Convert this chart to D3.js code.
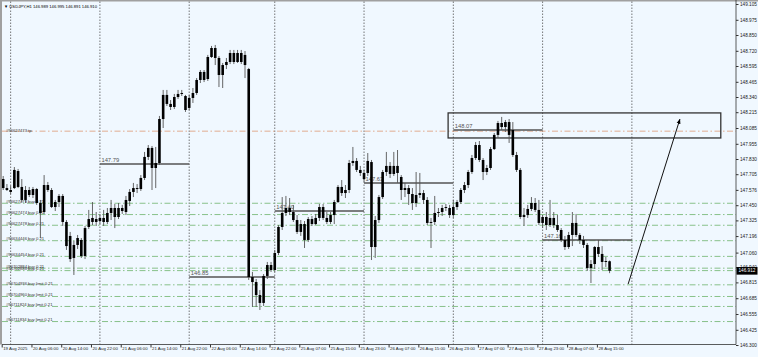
<!DOCTYPE html>
<html><head><meta charset="utf-8">
<script src="https://cdn.jsdelivr.net/npm/d3@7"></script>
<style>html,body{margin:0;padding:0;background:#F0F8FF;}svg{display:block;}</style>
</head><body><svg id="c" width="758" height="357"></svg>
<script>
const symbol = "USDJPY,H1";
const opens = [
147.665,147.591,147.575,147.591,147.731,147.600,147.493,147.575,147.534,147.583,
147.468,147.394,147.616,147.575,147.435,147.476,147.526,147.312,147.197,147.016,
147.123,147.164,147.032,147.271,147.312,147.336,147.320,147.345,147.312,147.386,
147.427,147.353,147.427,147.394,147.485,147.559,147.591,147.583,147.674,147.847,
147.921,147.756,147.797,148.159,148.357,148.283,148.258,148.340,148.365,148.348,
148.250,148.332,148.373,148.480,148.546,148.488,148.669,148.743,148.661,148.521,
148.603,148.628,148.702,148.628,148.702,148.686,148.570,146.859,146.818,146.711,
146.646,146.868,146.958,146.917,147.057,147.271,147.386,147.427,147.394,147.328,
147.230,147.295,147.164,147.336,147.295,147.345,147.435,147.345,147.312,147.369,
147.476,147.600,147.550,147.575,147.797,147.814,147.740,147.715,147.715,147.805,
147.106,147.328,147.517,147.723,147.773,147.707,147.773,147.682,147.575,147.591,
147.542,147.468,147.534,147.550,147.493,147.304,147.312,147.386,147.394,147.427,
147.427,147.369,147.435,147.476,147.575,147.616,147.723,147.838,147.945,147.822,
147.723,147.756,147.912,148.028,148.126,148.093,148.134,148.069,147.863,147.740,
147.353,147.369,147.419,147.468,147.411,147.304,147.353,147.287,147.345,147.287,
147.246,147.164,147.106,147.205,147.304,147.205,147.164,147.123,146.933,146.966,
147.106,147.049,146.983,146.989];
const highs = [
147.690,147.624,147.608,147.764,147.748,147.665,147.608,147.600,147.600,147.591,
147.493,147.698,147.641,147.591,147.493,147.542,147.542,147.328,147.230,147.156,
147.205,147.180,147.279,147.411,147.476,147.394,147.378,147.411,147.427,147.493,
147.460,147.468,147.452,147.526,147.583,147.633,147.624,147.698,147.888,147.945,
147.937,147.929,148.184,148.398,148.398,148.315,148.365,148.398,148.398,148.357,
148.357,148.414,148.496,148.562,148.562,148.686,148.760,148.768,148.677,148.620,
148.661,148.727,148.727,148.727,148.727,148.718,148.579,146.901,146.843,146.752,
146.884,146.983,146.983,147.082,147.287,147.517,147.526,147.509,147.452,147.369,
147.328,147.320,147.353,147.361,147.378,147.460,147.460,147.394,147.394,147.493,
147.616,147.657,147.616,147.822,147.929,147.838,147.773,147.740,147.879,147.822,
147.361,147.534,147.740,147.888,147.805,147.888,147.904,147.698,147.633,147.616,
147.591,147.723,147.715,147.575,147.517,147.345,147.526,147.427,147.452,147.460,
147.452,147.493,147.493,147.591,147.641,147.740,147.863,147.970,147.978,147.838,
147.781,147.929,148.044,148.143,148.176,148.151,148.159,148.134,147.888,147.756,
147.427,147.452,147.517,147.509,147.493,147.369,147.394,147.493,147.394,147.369,
147.262,147.197,147.230,147.394,147.378,147.221,147.197,147.139,146.999,147.114,
147.164,147.114,147.024,146.995];
const lows = [
147.575,147.567,147.542,147.583,147.591,147.476,147.468,147.517,147.509,147.452,
147.180,147.378,147.559,147.427,147.402,147.435,147.279,147.082,146.983,146.876,
147.090,147.016,147.007,147.254,147.287,147.279,147.295,147.279,147.295,147.328,
147.262,147.336,147.378,147.369,147.443,147.517,147.550,147.567,147.657,147.822,
147.575,147.591,147.781,148.085,148.266,148.233,148.241,148.324,148.348,148.217,
148.233,148.291,148.357,148.455,148.463,148.472,148.661,148.603,148.422,148.414,
148.570,148.611,148.611,148.620,148.611,148.496,146.835,146.613,146.613,146.588,
146.621,146.843,146.901,146.901,147.040,147.246,147.361,147.369,147.312,147.213,
147.197,147.098,147.147,147.279,147.287,147.320,147.328,147.295,147.295,147.295,
147.468,147.526,147.509,147.550,147.773,147.723,147.690,147.641,147.690,146.999,
147.016,147.304,147.501,147.690,147.674,147.690,147.633,147.493,147.517,147.452,
147.411,147.435,147.509,147.460,147.287,147.098,147.287,147.353,147.361,147.402,
147.345,147.345,147.411,147.460,147.550,147.591,147.707,147.822,147.805,147.657,
147.698,147.740,147.904,148.003,148.069,148.052,147.962,147.847,147.723,147.336,
147.279,147.345,147.402,147.394,147.287,147.262,147.246,147.271,147.262,147.230,
147.147,147.082,147.090,147.114,147.188,147.131,147.098,146.909,146.810,146.925,
147.024,146.917,146.942,146.891];
const closes = [
147.591,147.575,147.559,147.740,147.600,147.493,147.575,147.534,147.583,147.468,
147.386,147.616,147.575,147.435,147.476,147.526,147.312,147.114,147.007,147.123,
147.180,147.032,147.262,147.336,147.345,147.312,147.345,147.312,147.386,147.427,
147.353,147.427,147.402,147.493,147.559,147.591,147.583,147.674,147.847,147.921,
147.756,147.797,148.159,148.357,148.283,148.258,148.340,148.365,148.373,148.233,
148.332,148.373,148.480,148.546,148.480,148.669,148.743,148.661,148.521,148.603,
148.628,148.702,148.628,148.702,148.628,148.603,146.859,146.818,146.711,146.646,
146.868,146.958,146.917,147.057,147.271,147.386,147.427,147.394,147.328,147.230,
147.295,147.164,147.336,147.295,147.345,147.435,147.345,147.312,147.369,147.476,
147.600,147.550,147.575,147.797,147.814,147.740,147.715,147.665,147.814,147.106,
147.328,147.517,147.723,147.773,147.707,147.773,147.715,147.575,147.591,147.542,
147.468,147.534,147.550,147.493,147.304,147.312,147.386,147.394,147.427,147.435,
147.369,147.435,147.476,147.575,147.616,147.723,147.838,147.945,147.822,147.723,
147.756,147.912,148.028,148.126,148.093,148.134,148.028,147.863,147.740,147.353,
147.369,147.419,147.468,147.411,147.304,147.353,147.287,147.345,147.287,147.246,
147.164,147.106,147.205,147.304,147.205,147.164,147.123,146.933,146.966,147.106,
147.049,146.983,146.991,146.910];

const timeTickIdx = [0,8,16,24,32,40,48,56,64,72,80,88,96,104,112,120,128,136,144,152,160];
const timeTickLabels = ["19 Aug 2025","20 Aug 06:00","20 Aug 14:00","20 Aug 22:00","21 Aug 06:00","21 Aug 14:00","21 Aug 22:00","22 Aug 06:00","22 Aug 14:00","22 Aug 22:00","25 Aug 07:00","25 Aug 15:00","25 Aug 23:00","26 Aug 07:00","26 Aug 15:00","26 Aug 23:00","27 Aug 07:00","27 Aug 15:00","27 Aug 23:00","28 Aug 07:00","28 Aug 15:00"];
const daySepIdx = [2,26,50,73,97,121,145,169];
const priceTickLabels = ["149.105","148.975","148.850","148.720","148.595","148.465","148.340","148.215","148.085","147.955","147.830","147.705","147.576","147.450","147.325","147.196","147.060","146.940","146.815","146.685","146.555","146.425","146.300"];

const orderPrices = [147.466,147.373,147.285,147.158,147.029,146.932,146.912,146.795,146.699,146.617,146.493];
const orderLabels = ["#96627473 buy 0.21","#96627474 buy 0.21","#96627478 buy 0.21","#96634446 buy 0.21","#96634454 buy 0.21","#96702884 buy 0.21","#96702888 buy 0.21","#96704936 buy limit 0.21","#96704960 buy limit 0.21","#96711824 buy limit 0.21","#96711834 buy limit 0.21"];
const tpPrice = 148.059;
const tpLabel = "#96627473 tp";

const levelStartIdx = [26,50,73,97,121,145];
const levelEndIdx = [50,73,97,121,145,169];
const levelPrices = [147.789,146.859,147.402,147.633,148.069,147.164];
const levelLabels = ["147.79","146.85","147.40","147.63","148.07","147.16"];

const boxIdx = [119.6,192.9];
const boxPrices = [148.209,148.003];
const arrowIdx = [168.0,181.9];
const arrowPrices = [146.802,148.157];
const bidLabel = "146.912";

// ---- drawing ----
const W = 758, H = 357, plotRight = 736, plotBottom = 344.5;
const svg = d3.select("#c");
const font = "'Liberation Sans', Arial, sans-serif";
const x = d3.scaleLinear().domain([0,163]).range([3.2, 3.2+3.72*163]);
const y = d3.scaleLinear().domain([146.300,149.105]).range([345,4]);

svg.append("rect").attr("x",0).attr("y",0).attr("width",W).attr("height",H).attr("fill","#F0F8FF");

// borders
svg.append("rect").attr("x",0).attr("y",0).attr("width",W).attr("height",1.5).attr("fill","#a0a0a0");
svg.append("rect").attr("x",0).attr("y",0).attr("width",2).attr("height",plotBottom).attr("fill","#a0a0a0");

// day separators
svg.append("g").selectAll("line").data(daySepIdx).join("line")
  .attr("x1",d=>x(d)).attr("x2",d=>x(d)).attr("y1",1.5).attr("y2",plotBottom)
  .attr("stroke","#555").attr("stroke-width",0.8).attr("stroke-dasharray","1.5,1.5");

// order lines
const og = svg.append("g");
og.selectAll("line").data(orderPrices).join("line")
  .attr("x1",2).attr("x2",plotRight).attr("y1",d=>y(d)).attr("y2",d=>y(d))
  .attr("stroke","#7dbb7d").attr("stroke-width",0.9).attr("stroke-dasharray","6,2.5,1.5,2.5");
og.selectAll("text").data(orderLabels).join("text")
  .attr("x",6).attr("y",(d,i)=>y(orderPrices[i])-0.3)
  .attr("font-family",font).attr("font-size",4.2).attr("fill","#333").text(d=>d);

// tp line
svg.append("line").attr("x1",2).attr("x2",plotRight).attr("y1",y(tpPrice)).attr("y2",y(tpPrice))
  .attr("stroke","#e0a484").attr("stroke-width",0.9).attr("stroke-dasharray","6,2.5,1.5,2.5");
svg.append("text").attr("x",6).attr("y",y(tpPrice)+0.6).attr("font-family",font).attr("font-size",4.2).attr("fill","#333").text(tpLabel);

// level lines
const lg = svg.append("g");
levelPrices.forEach((p,i)=>{
  lg.append("line").attr("x1",x(levelStartIdx[i])).attr("x2",x(levelEndIdx[i]))
    .attr("y1",y(p)).attr("y2",y(p)).attr("stroke","#555").attr("stroke-width",1.4);
  lg.append("text").attr("x",x(levelStartIdx[i])+1.5).attr("y",y(p)-2)
    .attr("font-family",font).attr("font-size",5.8).attr("fill","#555").text(levelLabels[i]);
});

// box
svg.append("rect").attr("x",x(boxIdx[0])).attr("y",y(boxPrices[0]))
  .attr("width",x(boxIdx[1])-x(boxIdx[0])).attr("height",y(boxPrices[1])-y(boxPrices[0]))
  .attr("fill","none").attr("stroke","#333").attr("stroke-width",1.3);

// candles
const bars = d3.range(opens.length).map(i=>({i,o:opens[i],h:highs[i],l:lows[i],c:closes[i]}));
const cg = svg.append("g");
cg.selectAll("line").data(bars).join("line")
  .attr("x1",d=>x(d.i)).attr("x2",d=>x(d.i)).attr("y1",d=>y(d.h)).attr("y2",d=>y(d.l))
  .attr("stroke","#555").attr("stroke-width",0.9);
cg.selectAll("rect").data(bars).join("rect")
  .attr("x",d=>x(d.i)-1.3).attr("width",2.6)
  .attr("y",d=>y(Math.max(d.o,d.c)))
  .attr("height",d=>Math.max(0.9,Math.abs(y(d.o)-y(d.c))))
  .attr("fill","#000");

// arrow
const defs = svg.append("defs");
defs.append("marker").attr("id","ah").attr("viewBox","0 0 10 10").attr("refX",9).attr("refY",5)
  .attr("markerWidth",5).attr("markerHeight",5).attr("orient","auto")
  .append("path").attr("d","M0,1 L10,5 L0,9 Z").attr("fill","#000");
svg.append("line").attr("x1",x(arrowIdx[0])).attr("y1",y(arrowPrices[0]))
  .attr("x2",x(arrowIdx[1])).attr("y2",y(arrowPrices[1]))
  .attr("stroke","#111").attr("stroke-width",1).attr("marker-end","url(#ah)");

// right axis
const ya = d3.axisRight(y).tickValues(priceTickLabels.map(Number)).tickFormat((d,i)=>priceTickLabels[i]).tickSize(2.5).tickPadding(1.5);
const yg = svg.append("g").attr("transform",`translate(${plotRight},0)`).call(ya);
yg.select(".domain").remove();
yg.selectAll("line").attr("stroke","#333");
yg.selectAll("text").attr("font-family",font).attr("font-size",4.7).attr("fill","#222");
svg.append("line").attr("x1",plotRight).attr("x2",plotRight).attr("y1",0).attr("y2",plotBottom).attr("stroke","#333").attr("stroke-width",0.8);

// bottom axis
const xa = d3.axisBottom(x).tickValues(timeTickIdx).tickFormat((d,i)=>timeTickLabels[i]).tickSize(3).tickPadding(1.5);
const xg = svg.append("g").attr("transform",`translate(0,${plotBottom})`).call(xa);
xg.select(".domain").remove();
xg.selectAll(".tick line").attr("stroke","#333").attr("transform","translate(-1.5,0)");
xg.selectAll("text").attr("font-family",font).attr("font-size",4.3).attr("fill","#222")
  .attr("text-anchor","start").attr("dx",-0.5).attr("dy","0.3em");
svg.append("line").attr("x1",2).attr("x2",plotRight).attr("y1",plotBottom).attr("y2",plotBottom).attr("stroke","#333").attr("stroke-width",0.8);

// current price box
const last = bars[bars.length-1];
svg.append("rect").attr("x",plotRight+0.5).attr("y",y(last.c)-3.8).attr("width",21).attr("height",7.6).attr("fill","#000");
svg.append("text").attr("x",plotRight+2.5).attr("y",y(last.c)).attr("dy","0.35em")
  .attr("font-family",font).attr("font-size",4.7).attr("fill","#fff").text(bidLabel);

// header
svg.append("text").attr("x",4).attr("y",7.5).attr("font-family",font).attr("font-size",4.2).attr("fill","#000")
  .text("\u25BC " + symbol + " " + [last.o,last.h,last.l,last.c].map(d3.format(".3f")).join(" "));
</script></body></html>
